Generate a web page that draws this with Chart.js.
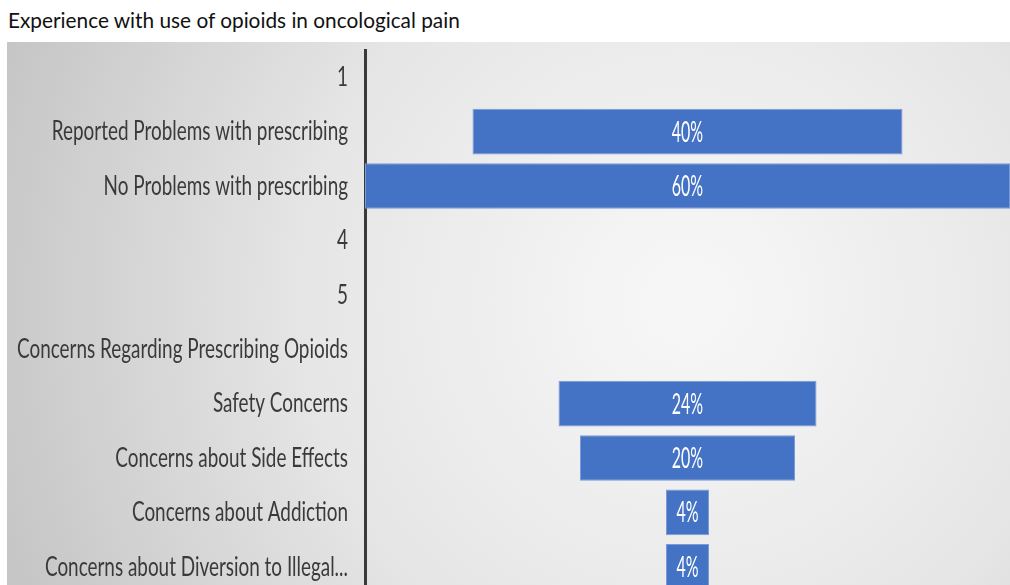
<!DOCTYPE html>
<html>
<head>
<meta charset="utf-8">
<script src="https://cdn.jsdelivr.net/npm/chart.js@4.4.1/dist/chart.umd.min.js"></script>
<style>
  html, body { margin: 0; padding: 0; background: #fff; overflow: hidden; width: 1010px; height: 585px; }
  #title { position: absolute; left: 8px; top: 7px; font-family: Lato, sans-serif; font-size: 20.8px; color: #111; white-space: nowrap; }
  #wrap { position: absolute; left: 7px; top: 42px; width: 1003px; height: 552px; }
</style>
</head>
<body>
<div id="title">Experience with use of opioids in oncological pain</div>
<div id="wrap"><canvas id="myChart"></canvas></div>
<script>
// Categories, top to bottom
const categories = [
    '1',
    'Reported Problems with prescribing',
    'No Problems with prescribing',
    '4',
    '5',
    'Concerns Regarding Prescribing Opioids',
    'Safety Concerns',
    'Concerns about Side Effects',
    'Concerns about Addiction',
    'Concerns about Diversion to Illegal...'
];
// Percent of respondents (null = no bar)
const percents = [null, 40, 60, null, null, null, 24, 20, 4, 4];

const labelFont = 'Lato, sans-serif';

// Funnel: each bar is centred on zero
const spans = percents.map(v => v === null ? null : [-v / 2, v / 2]);

// Grey panel with a lighter centre
const panelBackground = {
    id: 'panelBackground',
    beforeDraw(chart) {
        const { ctx, width, height } = chart;
        const g = ctx.createRadialGradient(680, 260, 40, 680, 260, 720);
        g.addColorStop(0, '#f6f6f6');
        g.addColorStop(0.5, '#e6e6e6');
        g.addColorStop(1, '#c6c6c6');
        ctx.save();
        ctx.fillStyle = g;
        ctx.fillRect(0, 0, width, height);
        ctx.restore();
    }
};

// Narrow category and value labels
const narrowLabels = {
    id: 'narrowLabels',
    afterDatasetsDraw(chart) {
        const { ctx } = chart;
        const yScale = chart.scales.y;
        const xScale = chart.scales.x;
        const meta = chart.getDatasetMeta(0);
        ctx.save();
        ctx.textBaseline = 'middle';
        categories.forEach((cat, i) => {
            const y = yScale.getPixelForValue(i);
            ctx.save();
            ctx.font = '27px ' + labelFont;
            ctx.fillStyle = '#3a3a3a';
            ctx.textAlign = 'right';
            ctx.translate(yScale.right - 17, y);
            ctx.scale(0.7, 1);
            ctx.fillText(cat, 0, 0);
            ctx.restore();

            if (percents[i] !== null) {
                const bar = meta.data[i];
                ctx.save();
                ctx.font = '28px ' + labelFont;
                ctx.fillStyle = '#ffffff';
                ctx.textAlign = 'center';
                ctx.translate(xScale.getPixelForValue(0), bar.y + 1);
                ctx.scale(0.57, 1);
                ctx.fillText(percents[i] + '%', 0, 0);
                ctx.restore();
            }
        });
        ctx.restore();
    }
};

const ctx = document.getElementById('myChart').getContext('2d');
const myChart = new Chart(ctx, {
    type: 'bar',
    data: {
        labels: categories,
        datasets: [{
            data: spans,
            backgroundColor: '#4472C4',
            borderColor: '#7b9bd6',
            borderWidth: 1,
            borderSkipped: false,
            barPercentage: 0.84,
            categoryPercentage: 1
        }]
    },
    options: {
        indexAxis: 'y',
        responsive: true,
        maintainAspectRatio: false,
        animation: false,
        layout: { padding: { left: 358, top: 8, right: 0, bottom: 0 } },
        scales: {
            x: { display: false, min: -30, max: 30 },
            y: {
                ticks: { display: false },
                grid: { display: false, drawTicks: false },
                border: { display: true, color: '#3a3a3a', width: 3 }
            }
        },
        plugins: {
            legend: { display: false },
            tooltip: { enabled: false }
        }
    },
    plugins: [panelBackground, narrowLabels]
});
</script>
</body>
</html>
